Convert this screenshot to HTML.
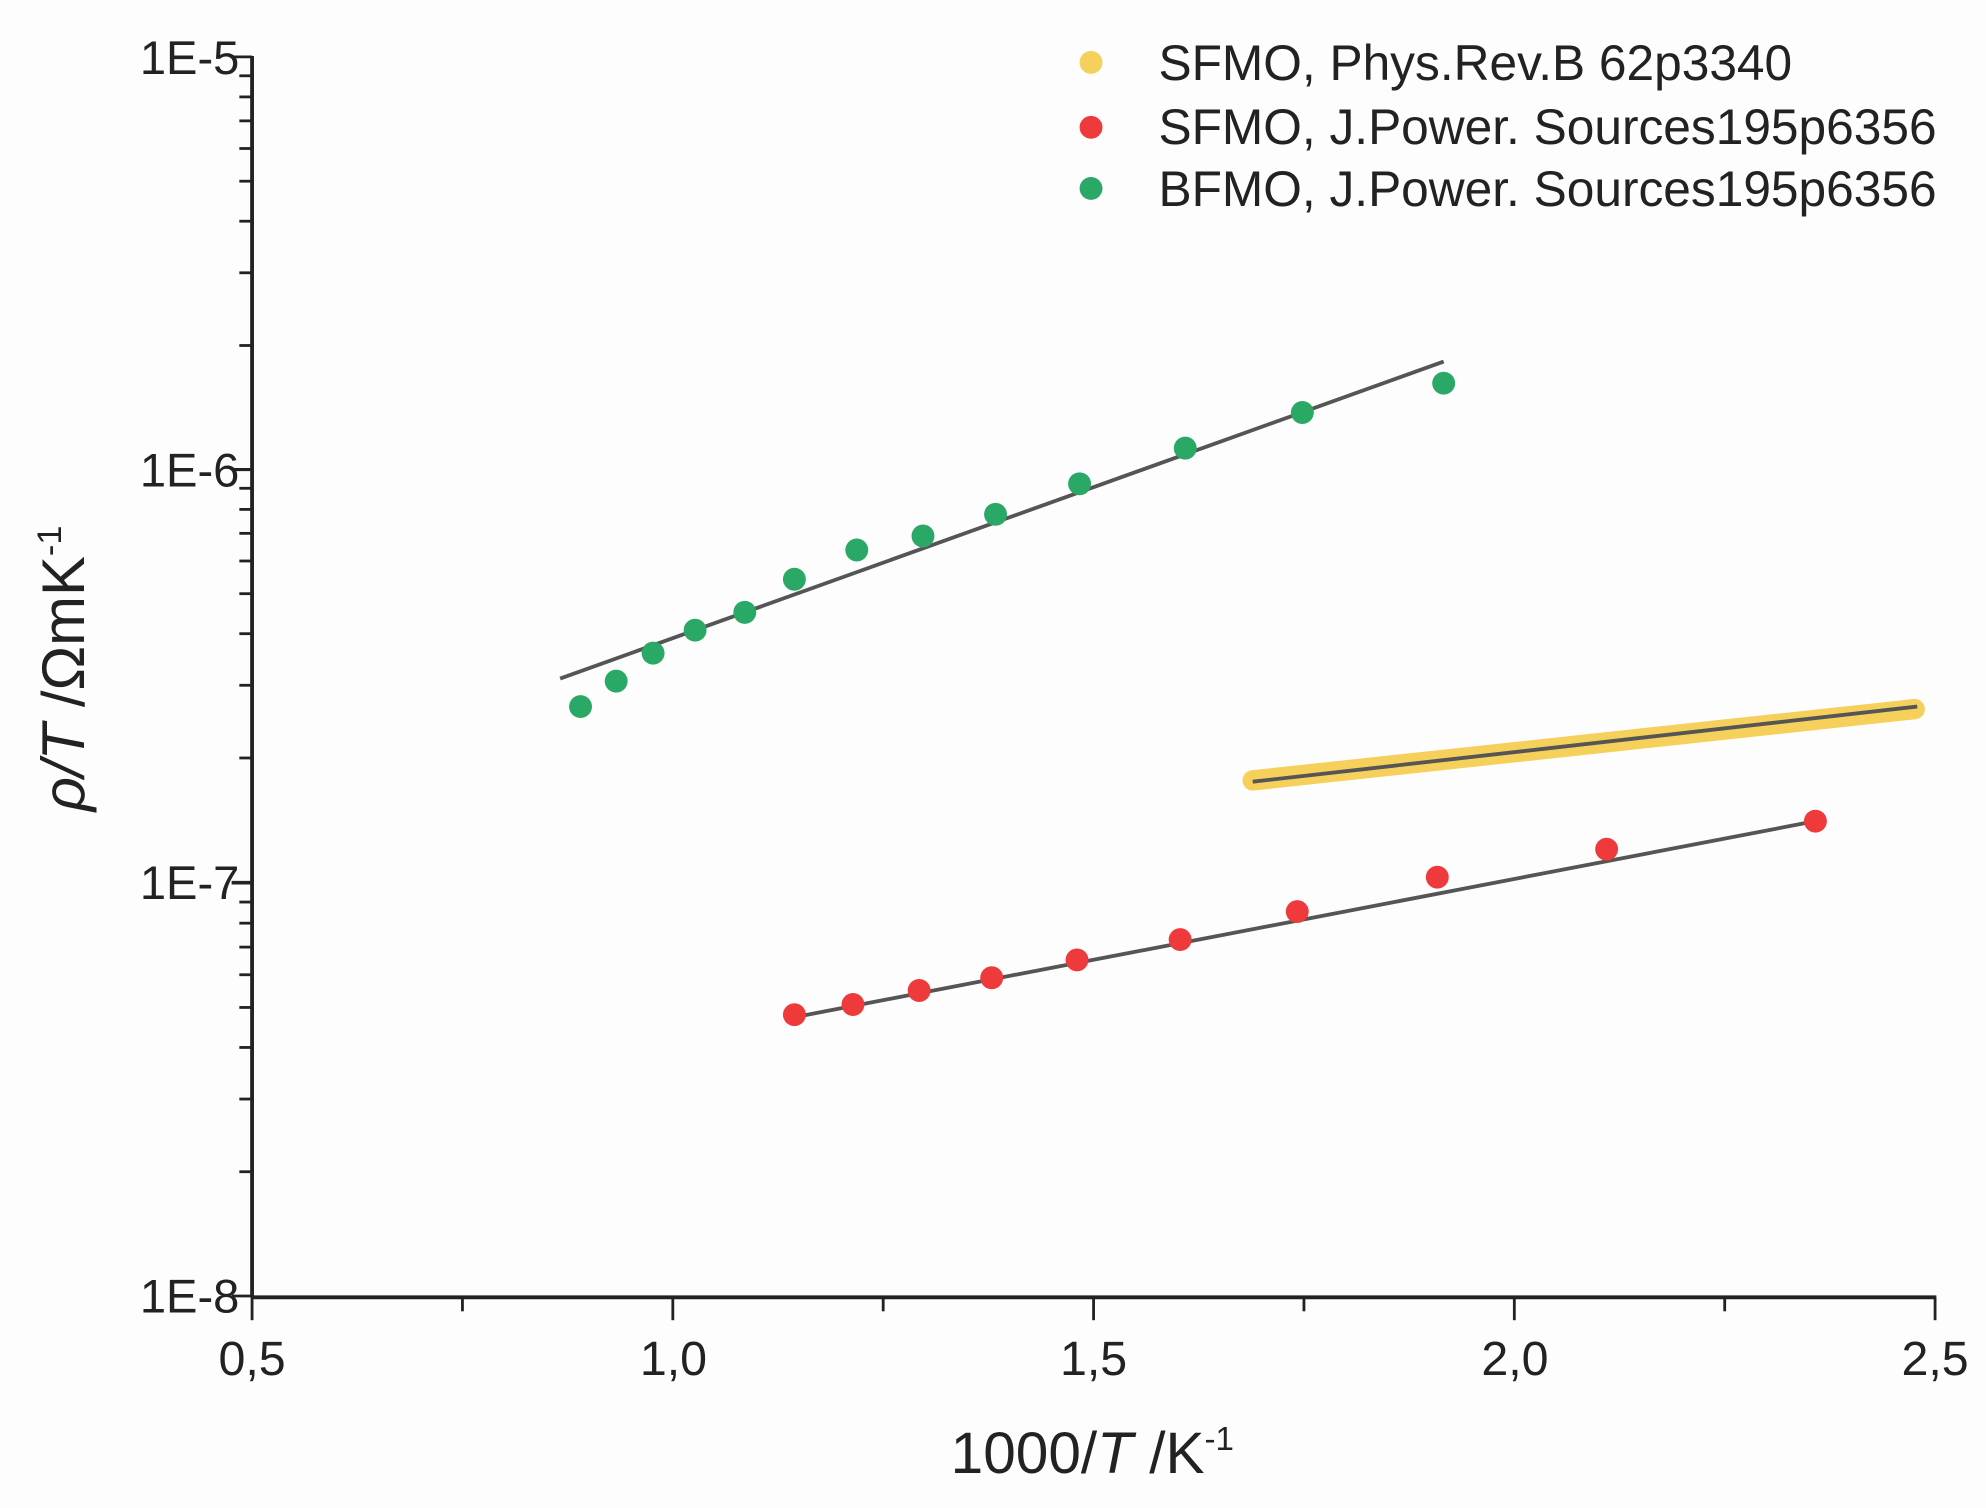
<!DOCTYPE html>
<html><head><style>html,body{margin:0;padding:0;background:#fdfdfd}svg{display:block}</style></head>
<body>
<svg width="1986" height="1508" viewBox="0 0 1560 1184.5" preserveAspectRatio="none" xmlns="http://www.w3.org/2000/svg" font-family="Liberation Sans, sans-serif">
<rect width="1560" height="1184.5" fill="#fdfdfd"/>
<g stroke="#222" stroke-width="3" fill="none">
<line x1="198" y1="44" x2="198" y2="1019"/>
<line x1="197" y1="1019" x2="1521" y2="1019"/>
</g>
<g id="ticks" stroke="#222" stroke-width="2.2"></g>
<g font-size="37" fill="#222" text-anchor="end">
<text x="188" y="58">1E-5</text>
<text x="188" y="382">1E-6</text>
<text x="188" y="706">1E-7</text>
<text x="188" y="1031">1E-8</text>
</g>
<g font-size="38" fill="#222" text-anchor="middle">
<text x="198" y="1080">0,5</text>
<text x="529" y="1080">1,0</text>
<text x="859" y="1080">1,5</text>
<text x="1190" y="1080">2,0</text>
<text x="1520" y="1080">2,5</text>
</g>
<text x="858" y="1157" font-size="46" fill="#222" text-anchor="middle">1000/<tspan font-style="italic">T</tspan> /K<tspan font-size="26" dy="-18">-1</tspan></text>
<text transform="translate(66,525) rotate(-90)" font-size="47" fill="#222" text-anchor="middle"><tspan font-style="italic">ρ/T</tspan> /ΩmK<tspan font-size="27" dy="-18">-1</tspan></text>
<line x1="984" y1="613" x2="1504" y2="557" stroke="#f5d05a" stroke-width="16" stroke-linecap="round"/>
<line x1="984" y1="614" x2="1506" y2="555" stroke="#555" stroke-width="3"/>
<line x1="440" y1="533" x2="1134" y2="284" stroke="#555" stroke-width="3"/>
<line x1="624" y1="799" x2="1426" y2="645" stroke="#555" stroke-width="3"/>
<g fill="#2aa866">
<circle cx="456" cy="555" r="9"/><circle cx="484" cy="535" r="9"/><circle cx="513" cy="513" r="9"/><circle cx="546" cy="495" r="9"/><circle cx="585" cy="481" r="9"/><circle cx="624" cy="455" r="9"/><circle cx="673" cy="432" r="9"/><circle cx="725" cy="421" r="9"/><circle cx="782" cy="404" r="9"/><circle cx="848" cy="380" r="9"/><circle cx="931" cy="352" r="9"/><circle cx="1023" cy="324" r="9"/><circle cx="1134" cy="301" r="9"/>
</g>
<g fill="#ee3a3a">
<circle cx="624" cy="797" r="9"/><circle cx="670" cy="789" r="9"/><circle cx="722" cy="778" r="9"/><circle cx="779" cy="768" r="9"/><circle cx="846" cy="754" r="9"/><circle cx="927" cy="738" r="9"/><circle cx="1019" cy="716" r="9"/><circle cx="1129" cy="689" r="9"/><circle cx="1262" cy="667" r="9"/><circle cx="1426" cy="645" r="9"/>
</g>
<circle cx="857" cy="49" r="9" fill="#f5d05a"/>
<circle cx="857" cy="100" r="9" fill="#ee3a3a"/>
<circle cx="857" cy="148" r="9" fill="#2aa866"/>
<g font-size="39" fill="#222">
<text x="910" y="63">SFMO, Phys.Rev.B 62p3340</text>
<text x="910" y="113">SFMO, J.Power. Sources195p6356</text>
<text x="910" y="162">BFMO, J.Power. Sources195p6356</text>
</g>
</svg>
<script>
var g=document.getElementById('ticks'),s='';
var tops=[45,369,693,1018],d=324.3;
for(var k=0;k<3;k++){var b=tops[k+1];
 for(var m=1;m<=10;m++){var y=b-d*Math.log10(m);var L=(m==1||m==10)?16:10;s+='<line x1="'+(198-L)+'" y1="'+y+'" x2="198" y2="'+y+'"/>';}}
for(var i=0;i<=8;i++){var x=198+i*165.25;var L=(i%2==0)?18:11;s+='<line x1="'+x+'" y1="1019" x2="'+x+'" y2="'+(1019+L)+'"/>';}
g.innerHTML=s;
</script>
</body></html>
